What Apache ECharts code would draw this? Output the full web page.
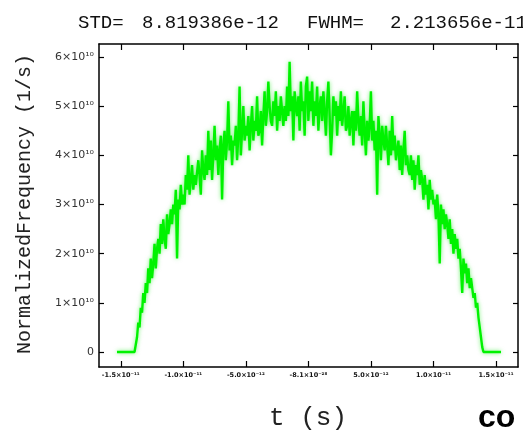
<!DOCTYPE html>
<html>
<head>
<meta charset="utf-8">
<script src="https://cdn.jsdelivr.net/npm/echarts@6/dist/echarts.min.js"></script>
<style>html,body{margin:0;padding:0;background:#fff;}#c{width:523px;height:435px;}</style>
</head>
<body>
<div id="c"></div>
<script>
// Time grid in picoseconds (1e-12 s)
const tStartPs = -15.3;
const tStepPs = 0.1;
// Normalized frequency in units of 1e10 (1/s)
const freqRise = [
  0,0,0,0,0,0,0,0,0,0,0,0,0,0,0,0,
  0.3,0.6,0.5,0.9,0.8,1.2,1.0,1.4,
  1.2,1.7,1.4,1.9,1.5,1.8,2.2,1.7,2.1,2.3,
  2.0,2.6,2.2,2.7,2.3,2.1,2.8,2.4,2.6,2.9,
  2.6,3.0,2.8,3.3,1.9,3.1,2.9,3.4,3.0,3.2,
  3.0,3.6,3.3,4.0,3.2,3.5,3.8,3.3,3.6,3.4,
  3.4,3.9,3.6,3.2,4.1,3.7,3.5,4.0,3.6,4.5,
  3.7,4.3,3.5,4.0,4.6,3.9,4.2,3.6,4.1,4.4,
  3.1,4.2,4.5,3.9,4.3,5.1,4.1,4.4,3.8,4.3,
  4.2,4.6,3.9,4.4,5.4,4.0,4.5,5.0,4.3,4.6,
  4.4,4.8,4.1,4.6,5.0,4.3,4.7,4.5,5.2,4.4,
  4.5,4.9,4.2,4.8,5.3,4.6,4.9,5.5,5.0,4.7,
  4.6,5.1,4.8,5.3,4.5,5.0,4.7,5.2,4.9,4.6,
  5.0,4.7,5.4,4.8,5.9,4.9,5.2,4.3,5.3,5.0,
  4.8,5.2,4.5,5.5,4.9,5.1,4.4,5.4,5.6,4.7
];
const freqFall = [
  5.3,4.9,5.5,4.6,5.1,4.8,5.4,4.5,5.0,5.2,
  4.7,5.3,4.9,4.4,5.1,5.5,4.8,4.0,4.5,5.2,
  4.8,5.1,4.4,5.0,4.7,5.3,4.6,4.9,5.2,4.5,
  4.6,5.0,4.4,4.7,4.9,4.2,4.9,4.5,5.3,4.7,
  4.4,4.8,4.2,5.1,4.5,4.0,4.7,4.3,4.6,5.3,
  4.3,4.7,4.1,4.5,3.2,4.8,4.4,3.9,4.6,4.3,
  4.1,4.6,4.2,3.8,4.5,4.0,4.8,4.1,4.4,3.9,
  3.9,4.3,3.7,4.2,3.6,4.1,4.5,3.8,4.0,3.7,
  3.6,4.0,3.5,3.9,3.3,3.8,3.6,4.0,3.4,3.7,
  3.5,3.1,3.6,3.2,3.4,2.9,3.5,3.1,3.3,3.0,
  3.1,2.7,3.2,2.8,1.8,3.0,2.6,2.9,2.5,2.8,
  2.6,2.3,2.7,2.2,2.5,2.0,2.4,2.1,2.3,1.9,
  2.1,1.7,1.2,1.9,1.6,1.8,1.4,1.7,1.3,1.5,
  1.3,1.1,1.2,0.9,1.0,0.7,0.5,0.3,0.1,0,
  0,0,0,0,0,0,0,0,0,0,0,0,0,0
];
const xTicks = [-15, -10, -5, 0, 5, 10, 15];
const xTickLabels = ['-1.5×10⁻¹¹', '-1.0×10⁻¹¹', '-5.0×10⁻¹²', '-8.1×10⁻²⁸', '5.0×10⁻¹²', '1.0×10⁻¹¹', '1.5×10⁻¹¹'];
const yTicks = [0, 1, 2, 3, 4, 5, 6];
const yTickLabels = ['0', '1×10¹⁰', '2×10¹⁰', '3×10¹⁰', '4×10¹⁰', '5×10¹⁰', '6×10¹⁰'];
const titleParts = ['STD=', '8.819386e-12', 'FWHM=', '2.213656e-11'];
const xTitle = 't (s)';
const yTitle = 'NormalizedFrequency (1/s)';

const freq = freqRise.concat(freqFall);
const points = freq.map((v, i) => [Math.round((tStartPs + i * tStepPs) * 10) / 10, v]);

const chart = echarts.init(document.getElementById('c'), null, {renderer: 'canvas'});
const lineStyleAxis = {color: '#000', width: 1.5};
function xAxisCfg(pos, labels) {
  return {
    type: 'value', position: pos, min: -16.74, max: 16.76,
    axisLine: {show: true, onZero: false, lineStyle: lineStyleAxis},
    axisTick: {show: true, inside: true, length: 6, customValues: xTicks, lineStyle: {color: '#000', width: 1.2}},
    axisLabel: labels ? {
      show: true, customValues: xTicks, margin: 5,
      formatter: v => xTickLabels[xTicks.indexOf(Math.round(v))] || '',
      fontSize: 6.5, fontWeight: 'bold', color: '#111', fontFamily: 'DejaVu Sans'
    } : {show: false},
    splitLine: {show: false}
  };
}
function yAxisCfg(pos, labels) {
  return {
    type: 'value', position: pos, min: -0.305, max: 6.264,
    axisLine: {show: true, onZero: false, lineStyle: lineStyleAxis},
    axisTick: {show: true, inside: true, length: 5, customValues: yTicks, lineStyle: {color: '#000', width: 1.2}},
    axisLabel: labels ? {
      show: true, customValues: yTicks, margin: 5,
      formatter: v => yTickLabels[yTicks.indexOf(Math.round(v))] || '',
      fontSize: 11, color: '#333', fontFamily: 'DejaVu Sans'
    } : {show: false},
    splitLine: {show: false}
  };
}
chart.setOption({
  animation: false,
  backgroundColor: '#fff',
  grid: {left: 99, right: 5, top: 44, bottom: 68, containLabel: false},
  xAxis: [xAxisCfg('bottom', true), xAxisCfg('top', false)],
  yAxis: [yAxisCfg('left', true), yAxisCfg('right', false)],
  series: [{
    type: 'line', data: points, xAxisIndex: 0, yAxisIndex: 0,
    showSymbol: false, symbol: 'none',
    lineStyle: {color: '#00f200', width: 2.4, shadowBlur: 4, shadowColor: 'rgba(0,230,0,0.55)'}
  }],
  graphic: [
    {type: 'text', left: 78, top: 13, style: {text: titleParts[0], font: '19px "Liberation Mono"', fill: '#111'}},
    {type: 'text', left: 142, top: 13, style: {text: titleParts[1], font: '19px "Liberation Mono"', fill: '#111'}},
    {type: 'text', left: 307, top: 13, style: {text: titleParts[2], font: '19px "Liberation Mono"', fill: '#111'}},
    {type: 'text', left: 390, top: 13, style: {text: titleParts[3], font: '19px "Liberation Mono"', fill: '#111'}},
    {type: 'text', x: 308, y: 418, style: {text: xTitle, font: '26px "Liberation Mono"', fill: '#222', align: 'center', verticalAlign: 'middle'}},
    {type: 'text', x: 25, y: 204, rotation: Math.PI / 2, style: {text: yTitle, font: '20px "Liberation Mono"', fill: '#222', align: 'center', verticalAlign: 'middle'}},
    {type: 'text', x: 478, y: 418, style: {text: 'co', font: 'bold 32px "Liberation Sans"', fill: '#000', align: 'left', verticalAlign: 'middle'}}
  ]
});
</script>
</body>
</html>
